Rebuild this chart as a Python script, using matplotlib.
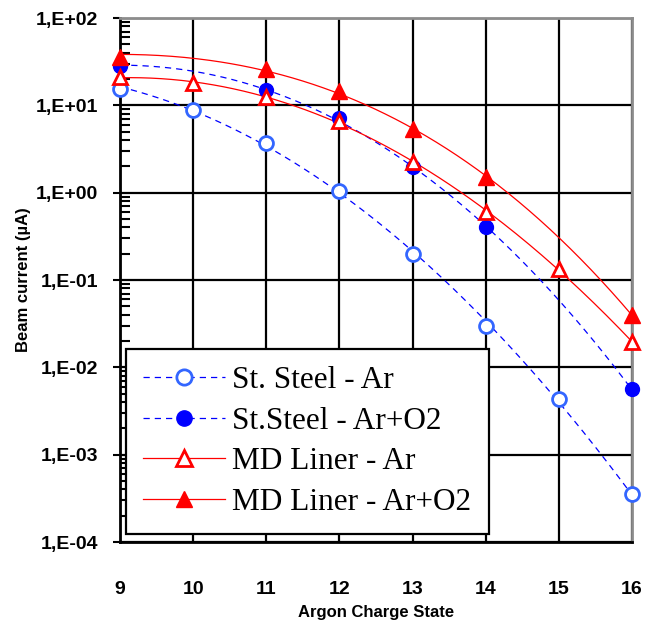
import matplotlib
matplotlib.use("Agg")
import matplotlib.pyplot as plt
import numpy as np
from matplotlib.ticker import FixedLocator, FuncFormatter, LogLocator, NullFormatter

# data (beam current in uA)
charge_all = [9, 10, 11, 12, 13, 14, 15, 16]
charge_o2 = [9, 11, 12, 13, 14, 16]

ss_ar = [15.5, 8.8, 3.7, 1.05, 0.20, 0.030, 0.0043, 0.00035]
ss_o2 = [28.0, 15.0, 7.1, 1.95, 0.40, 0.0056]
md_ar = [21.0, 18.0, 12.3, 6.6, 2.25, 0.60, 0.135, 0.0195]
md_o2 = [36.0, 26.0, 14.5, 5.3, 1.5, 0.040]

labels = ["St. Steel - Ar", "St.Steel - Ar+O2", "MD Liner - Ar", "MD Liner - Ar+O2"]

fig = plt.figure(figsize=(6.45, 6.21), dpi=100)
ax = fig.add_axes([120/645, 1-542/621, 512/645, 524/621])

xx = np.linspace(9, 16, 200)

def trend(x, y, powers):
    # least squares fit of log10(y) on powers of (x - 9)
    t = np.asarray(x, float) - 9
    A = np.column_stack([t ** k for k in powers])
    c, *_ = np.linalg.lstsq(A, np.log10(y), rcond=None)
    tt = xx - 9
    return 10 ** sum(ci * tt ** k for ci, k in zip(c, powers))

blue = "#0000FF"
lblue = "#3366FF"
red = "#FF0000"
dash = (0, (5, 4))

ax.plot(xx, trend(charge_all, ss_ar, [0, 1, 2]), color=blue, lw=0.9, ls=dash, zorder=3)
ax.plot(xx, trend(charge_o2, ss_o2, [0, 2, 3]), color=blue, lw=0.9, ls=dash, zorder=3)
ax.plot(xx, trend(charge_all, md_ar, [0, 1, 2]), color=red, lw=0.9, zorder=3)
ax.plot(xx, trend(charge_o2, md_o2, [0, 2, 3]), color=red, lw=0.9, zorder=3)

ax.plot(charge_all, ss_ar, ls="none", marker="o", ms=10, mfc="white", mec=lblue, mew=2, zorder=4, clip_on=False)
ax.plot(charge_o2, ss_o2, ls="none", marker="o", ms=10, mfc=blue, mec=blue, mew=1, zorder=4, clip_on=False)
ax.plot(charge_all, md_ar, ls="none", marker="^", ms=10, mfc="white", mec=red, mew=2, zorder=5, clip_on=False)
ax.plot(charge_o2, md_o2, ls="none", marker="^", ms=11, mfc=red, mec=red, mew=1, zorder=5, clip_on=False)

# legend proxies: line + marker
h1, = ax.plot([], [], color=blue, lw=0.9, ls=dash, marker="o", ms=11, mfc="white", mec=lblue, mew=2)
h2, = ax.plot([], [], color=blue, lw=0.9, ls=dash, marker="o", ms=11, mfc=blue, mec=blue)
h3, = ax.plot([], [], color=red, lw=0.9, marker="^", ms=11, mfc="white", mec=red, mew=2)
h4, = ax.plot([], [], color=red, lw=0.9, marker="^", ms=12, mfc=red, mec=red)

ax.set_yscale("log")
ax.set_xlim(9, 16)
ax.set_ylim(1e-4, 1e2)

ax.xaxis.set_major_locator(FixedLocator(charge_all))
ax.yaxis.set_major_locator(FixedLocator([1e-4, 1e-3, 1e-2, 1e-1, 1, 10, 100]))
ax.yaxis.set_minor_locator(LogLocator(base=10, subs=np.arange(2, 10)))
ax.yaxis.set_minor_formatter(NullFormatter())
ax.yaxis.set_major_formatter(FuncFormatter(lambda v, p: "1,E{:+03d}".format(int(round(np.log10(v))))))

ax.grid(True, which="major", color="black", lw=1.6)
ax.set_axisbelow(True)

for s in ["left", "bottom"]:
    ax.spines[s].set_color("black")
    ax.spines[s].set_linewidth(2)
for s in ["top", "right"]:
    ax.spines[s].set_color("#8c8c8c")
    ax.spines[s].set_linewidth(2)

ax.tick_params(axis="x", which="major", length=0, pad=28, labelsize=14)
ax.tick_params(axis="y", which="major", length=5, width=1.5, direction="out", pad=11, labelsize=14)
ax.tick_params(axis="y", which="minor", length=7, width=1.5, direction="in")
for t in ax.get_xticklabels() + ax.get_yticklabels():
    t.set_fontfamily("Liberation Sans")
    t.set_fontweight("bold")

ax.set_xlabel("Argon Charge State", fontfamily="Liberation Sans", fontweight="bold", fontsize=12, labelpad=5)
ax.set_ylabel("Beam current (µA)", fontfamily="Liberation Sans", fontweight="bold", fontsize=12, labelpad=3)

leg = ax.legend([h1, h2, h3, h4], labels, loc="lower left", bbox_to_anchor=(0.012, 0.015),
                prop={"family": "Liberation Serif", "size": 22.5}, frameon=True, fancybox=False,
                edgecolor="black", framealpha=1, handlelength=2.6, handletextpad=0.25,
                labelspacing=0.37, borderpad=0.55, borderaxespad=0)
leg.get_frame().set_linewidth(1.6)
leg.set_zorder(6)

fig.savefig("out.png", dpi=100)
